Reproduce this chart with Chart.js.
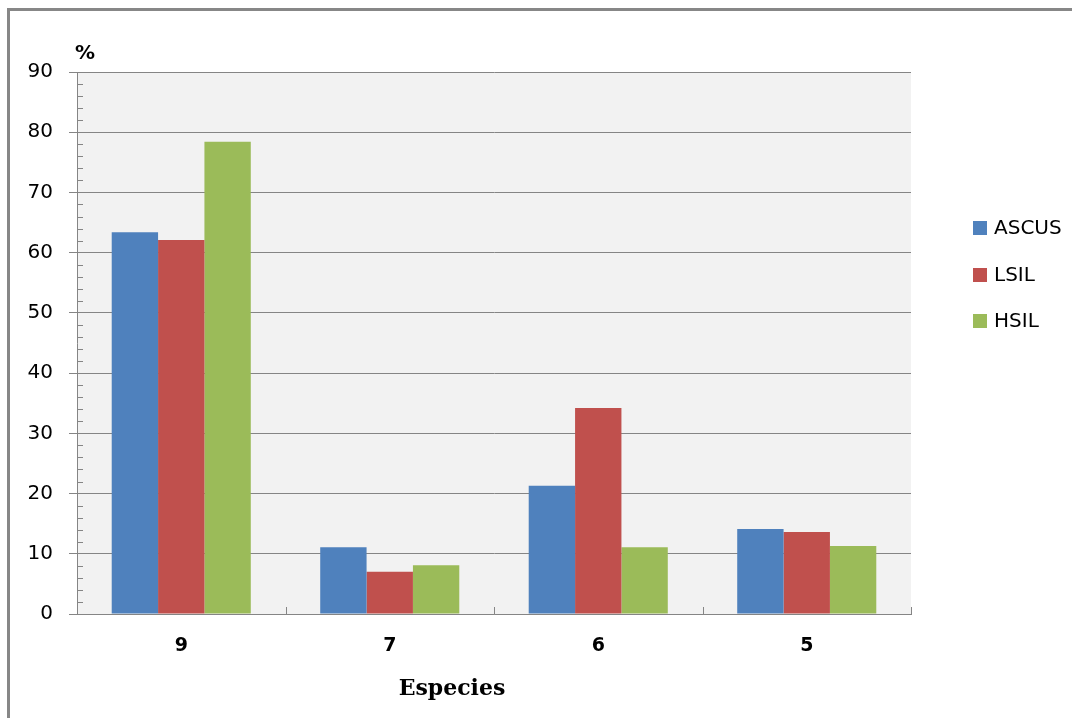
<!DOCTYPE html>
<html>
<head>
<meta charset="utf-8">
<script src="https://cdn.jsdelivr.net/npm/chart.js@4.4.1/dist/chart.umd.min.js"></script>
<style>
  html, body { margin: 0; padding: 0; background: #ffffff; }
  #wrap { position: relative; width: 1072px; height: 718px; overflow: hidden; }
  #frame { position: absolute; left: 7px; top: 8px; width: 1200px; height: 800px; border: 3px solid #878787; box-sizing: border-box; }
  canvas { position: absolute; left: 0; top: 0; }
</style>
</head>
<body>
<div id="wrap">
  <div id="frame"></div>
  <canvas id="c" width="1072" height="718"></canvas>
</div>
<script>
const categories = ['9', '7', '6', '5'];
const seriesNames = ['ASCUS', 'LSIL', 'HSIL'];
const ascus = [63.4, 11.1, 21.3, 14.1];
const lsil = [62.1, 7.0, 34.2, 13.6];
const hsil = [78.4, 8.1, 11.1, 11.3];
const seriesColors = ['#4F81BD', '#C0504D', '#9BBB59'];
const yMax = 90;
const yStep = 10;
const yMinorStep = 2;
const yUnitLabel = '%';
const xAxisTitle = 'Especies';

const axisColor = '#858585';

const decorPlugin = {
  id: 'decor',
  beforeDraw(chart) {
    const { ctx, chartArea } = chart;
    ctx.save();
    ctx.fillStyle = '#F2F2F2';
    ctx.fillRect(chartArea.left, chartArea.top, chartArea.right - chartArea.left, chartArea.bottom - chartArea.top);
    ctx.restore();
  },
  afterDraw(chart) {
    const { ctx, chartArea } = chart;
    const y = chart.scales.y;
    ctx.save();
    ctx.strokeStyle = axisColor;
    ctx.lineWidth = 1;
    // minor ticks on y axis (inside)
    for (let v = 0; v <= yMax; v += yMinorStep) {
      if (v % yStep === 0) continue;
      const py = Math.round(y.getPixelForValue(v)) + 0.5;
      ctx.beginPath();
      ctx.moveTo(chartArea.left, py);
      ctx.lineTo(chartArea.left + 6, py);
      ctx.stroke();
    }
    // x axis ticks at category boundaries (pointing up)
    const n = categories.length;
    const w = (chartArea.right - chartArea.left) / n;
    for (let i = 1; i <= n; i++) {
      const px = Math.round(chartArea.left + w * i) + 0.5;
      ctx.beginPath();
      ctx.moveTo(px, chartArea.bottom);
      ctx.lineTo(px, chartArea.bottom - 7);
      ctx.stroke();
    }
    // "%" unit label
    ctx.fillStyle = '#000';
    ctx.font = 'bold 20px "DejaVu Sans"';
    ctx.textAlign = 'left';
    ctx.textBaseline = 'middle';
    ctx.fillText(yUnitLabel, 75, 54);
    // x axis title
    ctx.font = 'bold 22px "DejaVu Serif"';
    ctx.textAlign = 'center';
    ctx.fillText(xAxisTitle, 452, 689);
    // legend
    ctx.font = '20px "DejaVu Sans"';
    ctx.textAlign = 'left';
    chart.data.datasets.forEach((ds, i) => {
      const cy = 228 + i * 46.5;
      ctx.fillStyle = ds.backgroundColor;
      ctx.fillRect(973, Math.round(cy - 7), 14, 14);
      ctx.fillStyle = '#000';
      ctx.fillText(ds.label, 994, cy + 1);
    });
    ctx.restore();
  }
};

const datasets = [ascus, lsil, hsil].map((vals, i) => ({
  label: seriesNames[i],
  data: vals,
  backgroundColor: seriesColors[i],
  borderWidth: 0,
  categoryPercentage: 0.667,
  barPercentage: 1.0
}));

new Chart(document.getElementById('c'), {
  type: 'bar',
  data: { labels: categories, datasets },
  options: {
    responsive: false,
    animation: false,
    layout: { padding: { left: 0, top: 72, right: 161, bottom: 0 } },
    plugins: { legend: { display: false }, tooltip: { enabled: false } },
    scales: {
      x: {
        grid: { display: false, drawTicks: false },
        border: { display: true, color: axisColor, width: 1 },
        ticks: { color: '#000', font: { family: 'DejaVu Sans', size: 19, weight: 'bold' }, padding: 21 },
        afterFit(scale) { scale.height = 104; }
      },
      y: {
        min: 0, max: yMax,
        grid: { color: axisColor, lineWidth: 1, tickLength: 8, drawOnChartArea: true },
        border: { display: true, color: axisColor, width: 1 },
        ticks: { stepSize: yStep, color: '#000', font: { family: 'DejaVu Sans', size: 20 }, padding: 16 },
        afterFit(scale) { scale.width = 77; }
      }
    }
  },
  plugins: [decorPlugin]
});
</script>
</body>
</html>
